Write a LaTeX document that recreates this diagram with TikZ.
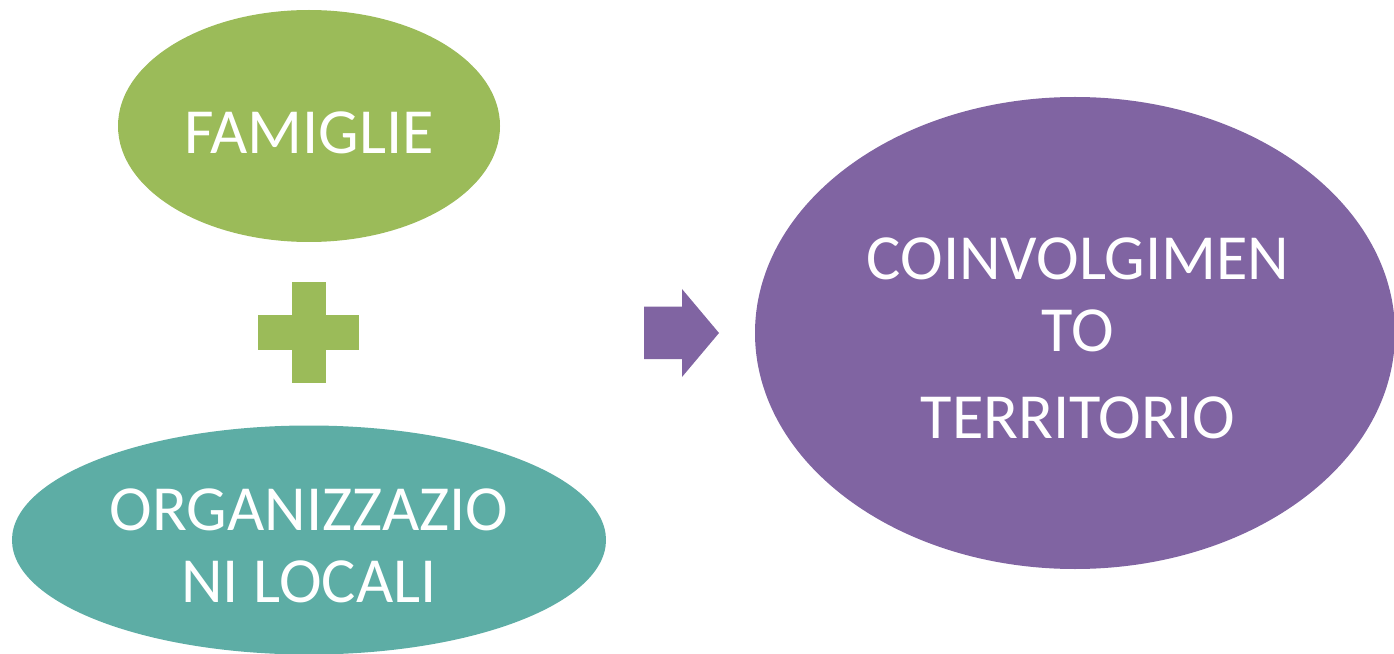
\documentclass[tikz,border=0pt]{standalone}
\usepackage{fontspec}
\setmainfont{Carlito}
\usetikzlibrary{shapes.geometric}
\definecolor{color1}{RGB}{155, 187, 89}
\definecolor{color2}{RGB}{93, 173, 165}
\definecolor{color3}{RGB}{128, 100, 162}
\tikzset{blob/.style={ellipse, inner sep=0pt},
	blobtext/.style={text=white, align=center, inner sep=0pt,
	font=\fontsize{36.6}{41}\selectfont}}
\begin{document}
\begin{tikzpicture}
	\useasboundingbox (0,0) rectangle (27.88,-13.08);
	\node[blob, fill=color1, minimum width=7.64cm, minimum height=4.64cm] (famiglie) at (6.18,-2.52) {};
	\node[blob, fill=color2, minimum width=11.88cm, minimum height=4.58cm] (organizzazioni) at (6.18,-10.8) {};
	\node[blob, fill=color3, minimum width=12.8cm, minimum height=9.44cm] (coinvolgimento) at (21.5,-6.66) {};
	\node[blobtext, yshift=-0.14cm] (famiglietext) at (famiglie) {FAMIGLIE};
	\node[blobtext, yshift=-0.12cm] (organizzazionitext) at (organizzazioni) {ORGANIZZAZIO\\NI LOCALI};
	\node[blobtext, xshift=0.06cm, yshift=-0.1cm] (coinvolgimentotext) at (coinvolgimento) {COINVOLGIMEN\\TO\\[0.3cm]TERRITORIO};
	% plus sign
	\fill[color1] (5.16,-6.3) rectangle (7.18,-7.0);
	\fill[color1] (5.84,-5.64) rectangle (6.52,-7.66);
	% arrow
	\fill[color3] (12.88,-6.13) -- (13.64,-6.13) -- (13.64,-5.78) -- (14.38,-6.66) -- (13.64,-7.54) -- (13.64,-7.18) -- (12.88,-7.18) -- cycle;
\end{tikzpicture}
\end{document}
